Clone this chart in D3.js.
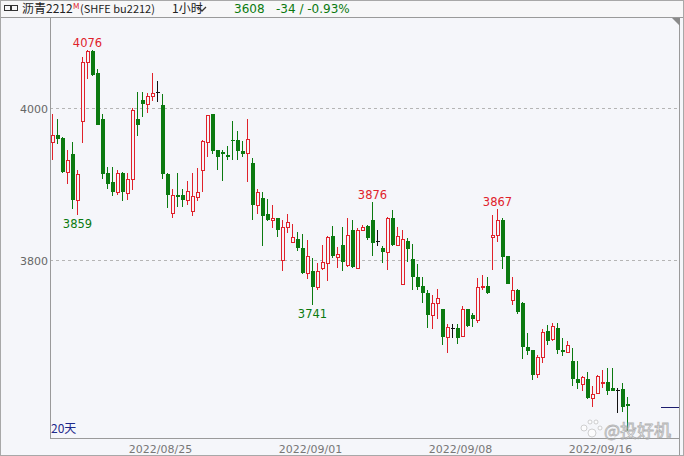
<!DOCTYPE html>
<html>
<head>
<meta charset="utf-8">
<script src="https://cdn.jsdelivr.net/npm/d3@7"></script>
<style>
  body { margin: 0; background: #f5f6fa; }
  svg { display: block; }
</style>
</head>
<body>
<div id="chart"></div>
<script>
var w = 684;
var h = 456;
var border = { top: 17, bottom: 438, left: 50, right: 679 };

// hourly bars
var opens = [3955,3965,3961,3916,3940,3879,3983,4060,4075,4046,3985,3914,3902,3890,3915,3888,3907,3986,4011,4005,
  4016,4021,4004,3913,3862,3886,3886,3879,3864,3883,3918,3955,3992,3945,3942,3938,3958,3958,3944,3941,
  3927,3873,3881,3860,3852,3855,3800,3843,3824,3827,3816,3783,3785,3765,3790,3796,3831,3804,3820,3793,
  3840,3790,3840,3845,3853,3825,3816,3811,3855,3820,3769,3825,3801,3778,3766,3757,3727,3744,3735,3699,
  3710,3710,3700,3735,3728,3721,3764,3766,3830,3833,3853,3805,3748,3761,3744,3686,3682,3650,3672,3706,
  3696,3711,3682,3679,3667,3643,3637,3644,3618,3625,3638,3640,3632,3629,3630,3610];
var highs = [3992,3985,3962,3945,3955,3918,4067,4076,4076,4051,3992,3923,3922,3918,3916,3914,4000,4021,4021,4020,
  4046,4035,4018,3914,3894,3914,3893,3904,3914,3921,3958,3991,3992,3945,3945,3950,3983,3970,3956,3985,
  3934,3894,3889,3880,3872,3855,3853,3860,3847,3837,3834,3826,3802,3796,3820,3832,3845,3817,3843,3855,
  3853,3842,3846,3846,3876,3840,3818,3857,3866,3844,3840,3829,3821,3795,3777,3760,3754,3762,3736,3716,
  3716,3716,3739,3736,3730,3776,3780,3777,3859,3867,3855,3805,3778,3762,3745,3704,3682,3675,3709,3714,
  3717,3717,3698,3693,3684,3667,3647,3653,3634,3649,3655,3658,3658,3632,3638,3620];
var lows = [3932,3952,3915,3900,3867,3859,3954,4038,4042,3977,3907,3893,3884,3885,3877,3879,3892,3963,3988,3994,
  4009,4008,3907,3868,3855,3870,3870,3872,3858,3877,3889,3935,3940,3918,3904,3931,3932,3932,3936,3902,
  3852,3861,3818,3851,3842,3830,3785,3835,3822,3812,3782,3775,3741,3761,3787,3772,3802,3790,3786,3791,
  3789,3789,3838,3826,3805,3818,3796,3787,3818,3818,3767,3798,3761,3761,3744,3710,3709,3722,3688,3678,
  3698,3690,3699,3712,3712,3717,3761,3755,3787,3824,3788,3768,3741,3729,3670,3675,3642,3645,3665,3688,
  3694,3676,3674,3678,3634,3630,3627,3617,3606,3624,3632,3622,3627,3599,3600,3575];
var closes = [3965,3959,3916,3932,3879,3913,4060,4075,4044,3978,3913,3900,3890,3914,3889,3907,3998,3978,4005,4016,
  4020,4021,3913,3886,3886,3883,3879,3891,3884,3889,3956,3991,3943,3935,3940,3935,3956,3944,3940,3959,
  3872,3889,3858,3852,3855,3840,3843,3850,3830,3816,3783,3805,3765,3786,3797,3830,3805,3808,3797,3833,
  3791,3840,3843,3829,3823,3825,3811,3855,3820,3831,3828,3814,3777,3764,3756,3727,3744,3750,3699,3712,
  3710,3697,3736,3713,3722,3765,3766,3757,3833,3853,3804,3769,3761,3732,3686,3680,3649,3673,3705,3694,
  3713,3682,3679,3688,3643,3638,3646,3618,3624,3647,3640,3627,3628,3629,3606,3608];

var yTicks = [3800, 4000];
var dateLabels = ['2022/08/25', '2022/09/01', '2022/09/08', '2022/09/16'];
var dateTickIdx = [21.6, 51.6, 81.6, 109.6];
var markIdx = [7, 5, 52, 64, 89];
var markKind = ['high', 'low', 'low', 'high', 'high'];

var lastPrice = 3608, change = -34, changePct = -0.93;

var red = '#e0222b', green = '#0b7a10', bg = '#f5f6fa', frame = '#9a9a9a';
var font = 'DejaVu Sans, Verdana, sans-serif';
var cjk = '"Noto Sans CJK SC", sans-serif';

var data = opens.map((o, i) => ({ i: i, o: o, h: highs[i], l: lows[i], c: closes[i] }));

const svg = d3.select('#chart')
              .append('svg')
              .attr('width', w)
              .attr('height', h)

svg.append('rect').attr('width', w).attr('height', h).attr('fill', bg)

var x = d3.scaleLinear().domain([0, data.length - 1]).range([52.5, 627.5]);
var y = d3.scaleLinear().domain([3800, 4000]).range([260, 108]);
var py = v => Math.round(y(v));

// header
svg.append('rect').attr('width', w).attr('height', border.top).attr('fill', '#f7f7f8')
svg.append('line').attr('x1', 0).attr('x2', w).attr('y1', border.top + 0.5).attr('y2', border.top + 0.5)
   .attr('stroke', frame)
var hdr = svg.append('g').attr('font-family', cjk).attr('font-size', 12)
hdr.append('rect').attr('x', 4.5).attr('y', 5.5).attr('width', 6).attr('height', 5).attr('fill', 'none').attr('stroke', '#333')
hdr.append('rect').attr('x', 11.5).attr('y', 5.5).attr('width', 6).attr('height', 5).attr('fill', 'none').attr('stroke', '#333')
hdr.append('text').attr('x', 22).attr('y', 13).attr('fill', '#222').text('沥青2212')
hdr.append('text').attr('x', 73).attr('y', 9).attr('font-size', 8).attr('fill', red).text('M')
hdr.append('text').attr('x', 80).attr('y', 13).attr('fill', '#222').attr('font-size', 11).text('(SHFE bu2212)')
hdr.append('text').attr('x', 172).attr('y', 13).attr('fill', '#222').text('1小时')
hdr.append('path').attr('d', 'M198,7 L202,11 L206,7').attr('fill', 'none').attr('stroke', '#333').attr('stroke-width', 1.3)
hdr.append('text').attr('x', 234).attr('y', 13).attr('fill', green).attr('font-family', font).attr('font-size', 12)
   .text(lastPrice)
hdr.append('text').attr('x', 276).attr('y', 13).attr('fill', green).attr('font-family', font).attr('font-size', 12)
   .text(change + ' / ' + changePct.toFixed(2) + '%')

// grid + y labels
svg.append('g').selectAll('line').data(yTicks).enter().append('line')
   .attr('x1', border.left).attr('x2', border.right)
   .attr('y1', d => py(d) + 0.5).attr('y2', d => py(d) + 0.5)
   .attr('stroke', '#b5b5b5').attr('stroke-dasharray', '3,3')
svg.append('g').selectAll('text').data(yTicks).enter().append('text')
   .attr('x', border.left - 2).attr('y', d => py(d) + 4.5)
   .attr('text-anchor', 'end').attr('font-family', font).attr('font-size', 11).attr('fill', '#666')
   .text(d => d)

// frame lines
svg.append('line').attr('x1', border.left + 0.5).attr('x2', border.left + 0.5).attr('y1', border.top).attr('y2', border.bottom)
   .attr('stroke', frame)
svg.append('line').attr('x1', border.left).attr('x2', border.right).attr('y1', border.bottom + 0.5).attr('y2', border.bottom + 0.5)
   .attr('stroke', frame)
svg.append('line').attr('x1', border.right + 0.5).attr('x2', border.right + 0.5).attr('y1', border.top).attr('y2', h)
   .attr('stroke', frame)
svg.append('rect').attr('x', 0.5).attr('y', 0.5).attr('width', w - 1).attr('height', h - 1)
   .attr('fill', 'none').attr('stroke', '#a8a8a8')
svg.append('path').attr('d', 'M672,18 L680,18 L680,26 Z').attr('fill', '#8a8a8a')

// date labels
svg.append('g').selectAll('text').data(dateLabels).enter().append('text')
   .attr('x', (d, k) => x(dateTickIdx[k])).attr('y', 453)
   .attr('text-anchor', 'middle').attr('font-family', font).attr('font-size', 11).attr('fill', '#777')
   .text(d => d)

// candles
var candles = svg.append('g').attr('shape-rendering', 'crispEdges')
data.forEach(d => {
  var cx = x(d.i);
  var top = Math.min(py(d.o), py(d.c)), bot = Math.max(py(d.o), py(d.c));
  var g = candles.append('g');
  if (d.c > d.o) {
    g.append('line').attr('x1', cx).attr('x2', cx).attr('y1', py(d.h)).attr('y2', top).attr('stroke', red)
    g.append('line').attr('x1', cx).attr('x2', cx).attr('y1', bot).attr('y2', py(d.l)).attr('stroke', red)
    g.append('rect').attr('x', cx - 1).attr('y', top + 0.5).attr('width', 3).attr('height', Math.max(bot - top, 1))
     .attr('fill', bg).attr('stroke', red)
  } else if (d.c < d.o) {
    g.append('line').attr('x1', cx).attr('x2', cx).attr('y1', py(d.h)).attr('y2', py(d.l)).attr('stroke', green)
    g.append('rect').attr('x', cx - 1.5).attr('y', top).attr('width', 4).attr('height', Math.max(bot - top, 1))
     .attr('fill', green)
  } else {
    g.append('line').attr('x1', cx).attr('x2', cx).attr('y1', py(d.h)).attr('y2', py(d.l)).attr('stroke', '#111')
    g.append('line').attr('x1', cx - 2).attr('x2', cx + 2).attr('y1', top + 0.5).attr('y2', top + 0.5).attr('stroke', '#111')
  }
})

// high / low marks
svg.append('g').selectAll('text').data(markIdx).enter().append('text')
   .attr('x', d => x(d))
   .attr('y', (d, k) => markKind[k] == 'high' ? py(highs[d]) - 3 : py(lows[d]) + 13)
   .attr('text-anchor', 'middle').attr('font-family', font).attr('font-size', 11.5)
   .attr('fill', (d, k) => markKind[k] == 'high' ? red : green)
   .text((d, k) => markKind[k] == 'high' ? highs[d] : lows[d])

// last price marker
svg.append('line').attr('x1', 661).attr('x2', border.right).attr('y1', py(lastPrice) + 1.5).attr('y2', py(lastPrice) + 1.5)
   .attr('stroke', '#1c1c6e')

svg.append('text').attr('x', 51).attr('y', 433).attr('font-family', cjk).attr('font-size', 12)
   .attr('fill', '#1e2a8a').text('20天')

// watermark
var wm = svg.append('g').attr('opacity', 0.75)
;[[584, 428, 3], [590, 422, 2], [596, 422, 2], [600, 428, 2], [592, 433, 4]].forEach(p => {
  wm.append('circle').attr('cx', p[0]).attr('cy', p[1]).attr('r', p[2]).attr('fill', '#fff').attr('stroke', '#aaa').attr('stroke-width', 0.7)
})
wm.append('text').attr('x', 604).attr('y', 437).attr('font-family', cjk).attr('font-size', 17)
  .attr('fill', '#fff').attr('stroke', '#999').attr('stroke-width', 0.8).text('@投好机')
</script>
</body>
</html>
